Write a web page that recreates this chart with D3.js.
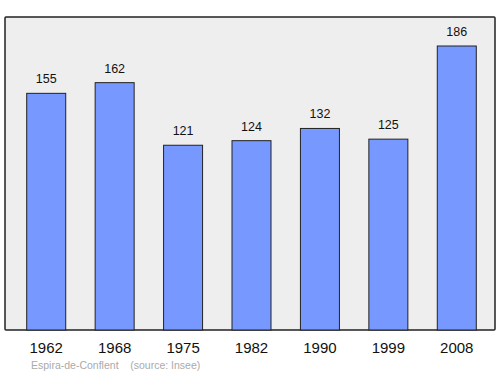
<!DOCTYPE html>
<html>
<head>
<meta charset="utf-8">
<script src="https://cdn.jsdelivr.net/npm/d3@7"></script>
<style>
  body { margin: 0; background: #fff; }
  text { font-family: "Liberation Sans", Arial, sans-serif; }
</style>
</head>
<body>
<script>
const years = ['1962', '1968', '1975', '1982', '1990', '1999', '2008']
const population = [155, 162, 121, 124, 132, 125, 186]
const commune = 'Espira-de-Conflent'
const source = '(source: Insee)'

const width = 500, height = 374
const frame = {left: 5, right: 495, top: 17, bottom: 330}

const svg = d3.select('body')
    .append('svg')
    .attr('width', width)
    .attr('height', height)

svg.append('rect')
    .attr('x', frame.left)
    .attr('y', frame.top)
    .attr('width', frame.right - frame.left)
    .attr('height', frame.bottom - frame.top)
    .attr('fill', '#eeeeee')
    .attr('stroke', '#222')
    .attr('stroke-width', 1.5)
    .attr('rx', 1)

const xScale = d3.scaleBand()
    .domain(years)
    .range([12, 491])

const yScale = d3.scaleLinear()
    .domain([0, 205])
    .range([frame.bottom, frame.top])

const barW = xScale.bandwidth() * 0.57

const data = years.map((y, i) => ({year: y, value: population[i]}))

svg.selectAll('rect.bar')
    .data(data)
    .enter()
    .append('rect')
    .attr('class', 'bar')
    .attr('x', d => xScale(d.year) + xScale.bandwidth() / 2 - barW / 2)
    .attr('y', d => yScale(d.value))
    .attr('width', barW)
    .attr('height', d => frame.bottom - yScale(d.value))
    .attr('fill', '#7799ff')
    .attr('stroke', '#222')
    .attr('stroke-width', 1)

svg.selectAll('text.val')
    .data(data)
    .enter()
    .append('text')
    .attr('class', 'val')
    .attr('x', d => xScale(d.year) + xScale.bandwidth() / 2)
    .attr('y', d => yScale(d.value) - 10)
    .attr('text-anchor', 'middle')
    .attr('font-size', 12.5)
    .attr('fill', '#111')
    .text(d => d.value)

svg.selectAll('text.year')
    .data(data)
    .enter()
    .append('text')
    .attr('class', 'year')
    .attr('x', d => xScale(d.year) + xScale.bandwidth() / 2)
    .attr('y', 352.5)
    .attr('text-anchor', 'middle')
    .attr('font-size', 15)
    .attr('fill', '#111')
    .text(d => d.year)

svg.append('text')
    .attr('x', 31)
    .attr('y', 369)
    .attr('font-size', 10.5)
    .attr('fill', '#aaa')
    .attr('xml:space', 'preserve')
    .style('white-space', 'pre')
    .text(commune + '    ' + source)
</script>
</body>
</html>
